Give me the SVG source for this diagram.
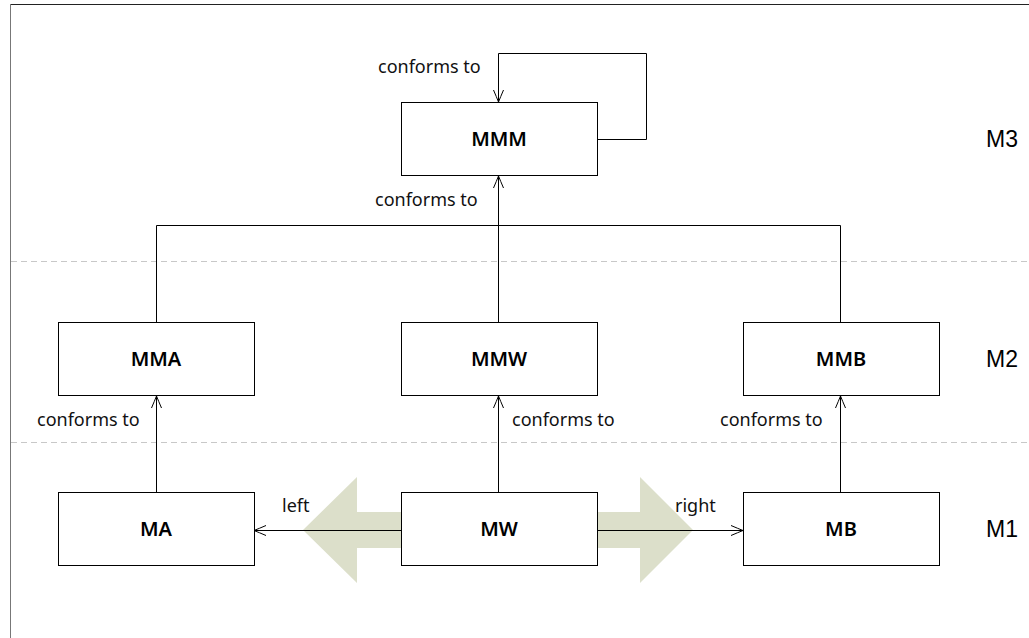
<svg xmlns="http://www.w3.org/2000/svg" width="1029" height="638" viewBox="0 0 1029 638">
  <style>
    .node rect { fill: #ffffff; stroke: #000000; stroke-width: 1; }
    .node text { font-family: "Noto Sans", "DejaVu Sans", sans-serif; font-size: 20px; font-weight: 600; text-anchor: middle; fill: #000; }
    .lbl { font-family: "Noto Sans", "DejaVu Sans", sans-serif; font-size: 18px; fill: #111; }
    .lvl { font-family: "Liberation Sans", Arial, sans-serif; font-size: 23px; fill: #000; }
    .edge { fill: none; stroke: #000; stroke-width: 1; }
    .sep { stroke: #c8c8c8; stroke-width: 1; stroke-dasharray: 6 4; }
    .bigarrow { fill: #dcdfca; }
  </style>
  <defs>
    <marker id="open" viewBox="0 0 12 12" refX="12" refY="6" markerWidth="12" markerHeight="12" markerUnits="userSpaceOnUse" orient="auto">
      <path d="M0,1 Q7,4 12,6 Q7,8 0,11" fill="none" stroke="#000" stroke-width="1"/>
    </marker>
  </defs>

  <rect width="1029" height="638" fill="#ffffff"/>

  <!-- frame -->
  <line x1="10" y1="4.5" x2="1029" y2="4.5" stroke="#222" stroke-width="1"/>
  <line x1="10.5" y1="4" x2="10.5" y2="638" stroke="#777" stroke-width="1"/>

  <!-- level separators -->
  <line class="sep" x1="11" y1="261.5" x2="1029" y2="261.5"/>
  <line class="sep" x1="11" y1="442.5" x2="1029" y2="442.5"/>

  <!-- transformation direction arrows -->
  <polygon class="bigarrow" points="401,512 357,512 357,477 303,530 357,583 357,548 401,548"/>
  <polygon class="bigarrow" points="597,512 640,512 640,477 693,530 640,583 640,548 597,548"/>

  <g id="connectors">
    <path class="edge" d="M597,139.5 H646.5 V53.5 H498.5 V102" marker-end="url(#open)"/>
    <path class="edge" d="M498.5,322 V225.5 M156.5,322 V225.5 H840.5 V322 M498.5,225.5 V176" marker-end="url(#open)"/>
    <path class="edge" d="M156.5,492 V396" marker-end="url(#open)"/>
    <path class="edge" d="M498.5,492 V396" marker-end="url(#open)"/>
    <path class="edge" d="M840.5,492 V396" marker-end="url(#open)"/>
    <path class="edge" d="M401,530.5 H254" marker-end="url(#open)"/>
    <path class="edge" d="M597,530.5 H743" marker-end="url(#open)"/>
    <text class="lbl" x="378" y="73">conforms to</text>
    <text class="lbl" x="375" y="206">conforms to</text>
    <text class="lbl" x="37" y="426">conforms to</text>
    <text class="lbl" x="512" y="426">conforms to</text>
    <text class="lbl" x="720" y="426">conforms to</text>
    <text class="lbl" x="282" y="512">left</text>
    <text class="lbl" x="675" y="512">right</text>
  </g>

  <g id="MMM" class="node"><rect x="401.5" y="102.5" width="196" height="73"/><text x="499" y="146">MMM</text></g>
  <g id="MMA" class="node"><rect x="58.5" y="322.5" width="196" height="73"/><text x="156" y="366">MMA</text></g>
  <g id="MMW" class="node"><rect x="401.5" y="322.5" width="196" height="73"/><text x="499" y="366">MMW</text></g>
  <g id="MMB" class="node"><rect x="743.5" y="322.5" width="196" height="73"/><text x="841" y="366">MMB</text></g>
  <g id="MA" class="node"><rect x="58.5" y="492.5" width="196" height="73"/><text x="156" y="536">MA</text></g>
  <g id="MW" class="node"><rect x="401.5" y="492.5" width="196" height="73"/><text x="499" y="536">MW</text></g>
  <g id="MB" class="node"><rect x="743.5" y="492.5" width="196" height="73"/><text x="841" y="536">MB</text></g>

  <text class="lvl" x="986" y="147">M3</text>
  <text class="lvl" x="986" y="367">M2</text>
  <text class="lvl" x="986" y="537">M1</text>
</svg>
